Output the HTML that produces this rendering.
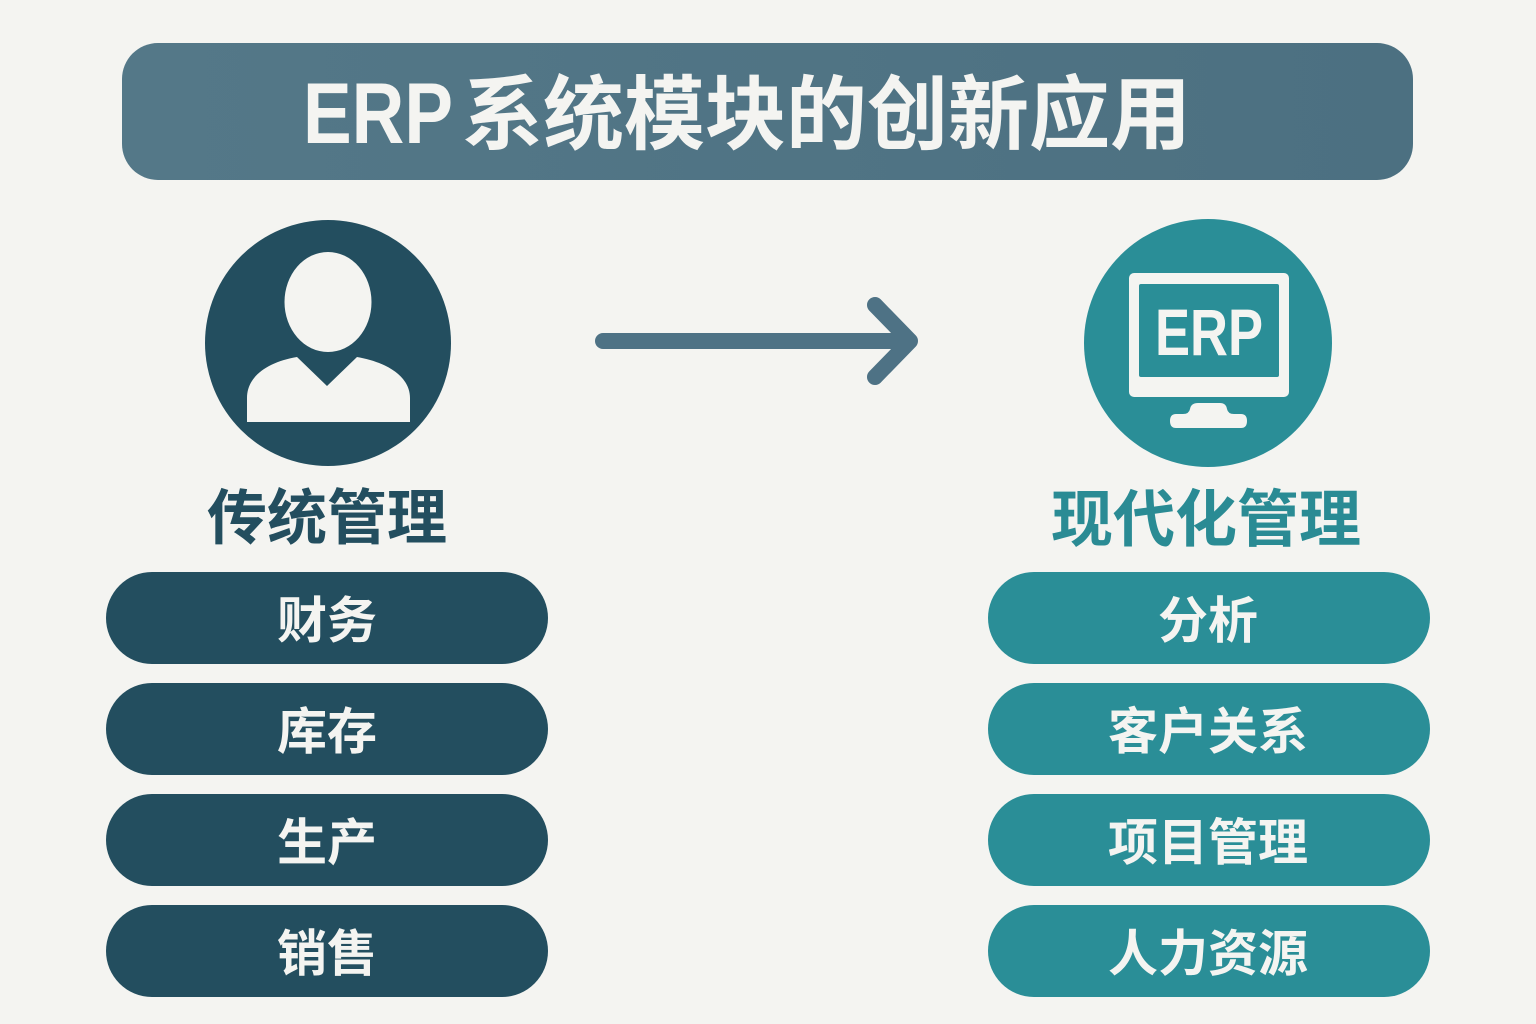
<!DOCTYPE html>
<html>
<head>
<meta charset="utf-8">
<style>
  html,body{margin:0;padding:0;background:#f4f4f1;}
  svg{display:block;}
  text{font-family:"Liberation Sans","Noto Sans CJK SC",sans-serif;font-weight:700;}
  .cjk{font-family:"Noto Sans CJK SC","WenQuanYi Zen Hei",sans-serif;font-weight:700;}
</style>
</head>
<body>
<svg width="1536" height="1024" viewBox="0 0 1536 1024" xmlns="http://www.w3.org/2000/svg">
  <rect width="1536" height="1024" fill="#f4f4f1"/>

  <!-- Title bar -->
  <defs>
    <linearGradient id="tg" x1="0" y1="0" x2="1" y2="0">
      <stop offset="0" stop-color="#547888"/>
      <stop offset="1" stop-color="#4c7081"/>
    </linearGradient>
  </defs>
  <rect x="122" y="43" width="1291" height="137" rx="36" ry="36" fill="url(#tg)"/>
  <text x="303" y="143" font-size="86" fill="#f4f4f1" textLength="150" lengthAdjust="spacingAndGlyphs">ERP</text>
  <text class="cjk" x="462" y="143" font-size="81" fill="#f4f4f1" textLength="729" lengthAdjust="spacingAndGlyphs">系统模块的创新应用</text>

  <!-- Left icon: person -->
  <circle cx="328" cy="343" r="123" fill="#234e5f"/>
  <ellipse cx="328" cy="302" rx="43.5" ry="50" fill="#f4f4f1"/>
  <path d="M247,422 V398 C247,376 268,362 297,357 L327,386 L357,357 C386,362 410,376 410,398 V422 Z" fill="#f4f4f1"/>

  <!-- Arrow -->
  <g stroke="#4e7285" stroke-width="16" stroke-linecap="round" stroke-linejoin="round" fill="none">
    <line x1="603" y1="341" x2="905" y2="341"/>
    <polyline points="875,305 910,341 875,377"/>
  </g>

  <!-- Right icon: monitor -->
  <circle cx="1208" cy="343" r="124" fill="#2a8e97"/>
  <rect x="1129" y="273" width="160" height="124" rx="5" fill="#f4f4f1"/>
  <rect x="1139" y="284" width="140" height="93" rx="2" fill="#2a8e97"/>
  <text x="1155" y="355" font-size="66" fill="#f4f4f1" textLength="108" lengthAdjust="spacingAndGlyphs">ERP</text>
  <path d="M1198,403 H1220 Q1226,403 1227,409 Q1228,414 1234,414 H1241 Q1247,414 1247,421 Q1247,428 1241,428 H1176 Q1170,428 1170,421 Q1170,414 1176,414 H1183 Q1189,414 1190,409 Q1191,403 1198,403 Z" fill="#f4f4f1"/>

  <!-- Labels -->
  <text class="cjk" x="327" y="539" font-size="60" fill="#234e5f" text-anchor="middle">传统管理</text>
  <text class="cjk" x="1206" y="541" font-size="62" fill="#2a8b94" text-anchor="middle">现代化管理</text>

  <!-- Left pills -->
  <g fill="#234e5f">
    <rect x="106" y="572" width="442" height="92" rx="46"/>
    <rect x="106" y="683" width="442" height="92" rx="46"/>
    <rect x="106" y="794" width="442" height="92" rx="46"/>
    <rect x="106" y="905" width="442" height="92" rx="46"/>
  </g>
  <g class="cjk" font-size="50" fill="#f4f4f1" text-anchor="middle">
    <text class="cjk" x="327" y="638">财务</text>
    <text class="cjk" x="327" y="749">库存</text>
    <text class="cjk" x="327" y="860">生产</text>
    <text class="cjk" x="327" y="971">销售</text>
  </g>

  <!-- Right pills -->
  <g fill="#2a8e97">
    <rect x="988" y="572" width="442" height="92" rx="46"/>
    <rect x="988" y="683" width="442" height="92" rx="46"/>
    <rect x="988" y="794" width="442" height="92" rx="46"/>
    <rect x="988" y="905" width="442" height="92" rx="46"/>
  </g>
  <g font-size="50" fill="#f4f4f1" text-anchor="middle">
    <text class="cjk" x="1208" y="638">分析</text>
    <text class="cjk" x="1208" y="749">客户关系</text>
    <text class="cjk" x="1208" y="860">项目管理</text>
    <text class="cjk" x="1208" y="971">人力资源</text>
  </g>
</svg>
</body>
</html>
